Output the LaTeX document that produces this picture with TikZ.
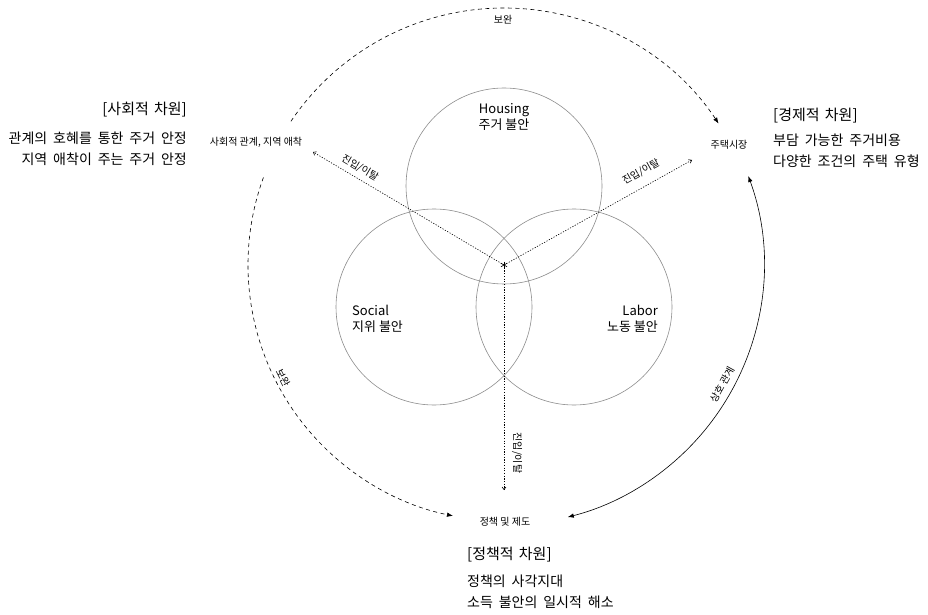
\documentclass[tikz,border=0pt]{standalone}
\usepackage{fontspec}
\setmainfont{Noto Sans CJK KR}
\usetikzlibrary{arrows.meta}
\begin{document}
\begin{tikzpicture}[x=1pt,y=1pt,
  venn/.style={circle, draw=black!45, line width=0.6pt, minimum size=196pt, inner sep=0pt},
  bigarc/.style={line width=0.6pt, dash pattern=on 4pt off 3.5pt},
  arctip/.style={-{Latex[length=6pt,width=4.5pt]}},
  flow/.style={line width=0.6pt, dash pattern=on 1.2pt off 1.5pt, -{Straight Barb[length=2.5pt,width=4pt]}},
  small/.style={font=\fontsize{10}{12}\selectfont, inner sep=0pt},
  circlab/.style={font=\fontsize{13}{17}\selectfont, inner sep=0pt, align=left},
  title/.style={font=\fontsize{15}{18}\selectfont, inner sep=0pt, execute at begin node={\spaceskip=0.35em\relax}},
  body/.style={font=\fontsize{14}{17}\selectfont, inner sep=0pt, execute at begin node={\spaceskip=0.42em\relax}}
]
\useasboundingbox (0,0) rectangle (928,614);
\coordinate (star) at (504,349);
% Venn circles
\node[venn] (H) at (504,428) {};
\node[venn] (So) at (434,307) {};
\node[venn] (La) at (574,307) {};
\node[circlab, align=center] (Ht) at (504,497) {Housing\\[-1pt]주거 불안};
\node[circlab, anchor=west, align=left] (Sot) at (352,295) {Social\\[-1pt]지위 불안};
\node[circlab, anchor=east, align=right] (Lat) at (658,295) {Labor\\[-1pt]노동 불안};
% star marker
\foreach \a in {30,90,150} \draw[line width=0.6pt] (star) ++(\a:3.5) -- ++(\a+180:7);
% end labels
\node[small] (soc) at (256,472) {사회적 관계, 지역 애착};
\node[small] (mkt) at (729,469) {주택시장};
\node[small] (pol) at (505,92) {정책 및 제도};
% flow arrows from the centre
\coordinate (ul) at (313,462);
\coordinate (ur) at (692,454);
\coordinate (dn) at (504,124);
\draw[flow] (star) -- (ul);
\draw[flow] (star) -- (ur);
\draw[flow] (star) -- (dn);
\node[small, rotate=-30.7] (f1) at (360,446) {진입/이탈};
\node[small, rotate=29.2] (f2) at (641,442) {진입/이탈};
\node[small, rotate=-90] (f3) at (517,161) {진입/이탈};
% big arcs
\path (star) ++(146:257) coordinate (t1);
\draw[bigarc, arctip] (t1) arc[start angle=146, end angle=33.4, radius=257];
\node[small] (tl) at (503,594) {보완};
\path (star) ++(160:256) coordinate (l1);
\draw[bigarc, arctip] (l1) arc[start angle=160, end angle=258.5, radius=256];
\node[small, rotate=-63] (ll) at (283,236) {보완};
\path (star) ++(20:260) coordinate (r1);
\draw[line width=0.6pt, {Latex[length=6pt,width=4.5pt]}-{Latex[length=6pt,width=4.5pt]}] (r1) arc[start angle=20, end angle=-75.8, radius=260];
\node[small, rotate=61] (rl) at (722,229) {상호 관계};
% dimension texts
\node[title, anchor=east] (st) at (187,504) {[사회적 차원]};
\node[body, anchor=east] (s1) at (187,476) {관계의 호혜를 통한 주거 안정};
\node[body, anchor=east] (s2) at (187,455) {지역 애착이 주는 주거 안정};
\node[title, anchor=west] (et) at (773,498) {[경제적 차원]};
\node[body, anchor=west] (e1) at (773,474) {부담 가능한 주거비용};
\node[body, anchor=west] (e2) at (773,453) {다양한 조건의 주택 유형};
\node[title, anchor=west] (pt) at (467,59) {[정책적 차원]};
\node[body, anchor=west] (p1) at (467,33) {정책의 사각지대};
\node[body, anchor=west] (p2) at (467,12) {소득 불안의 일시적 해소};
\end{tikzpicture}
\end{document}
